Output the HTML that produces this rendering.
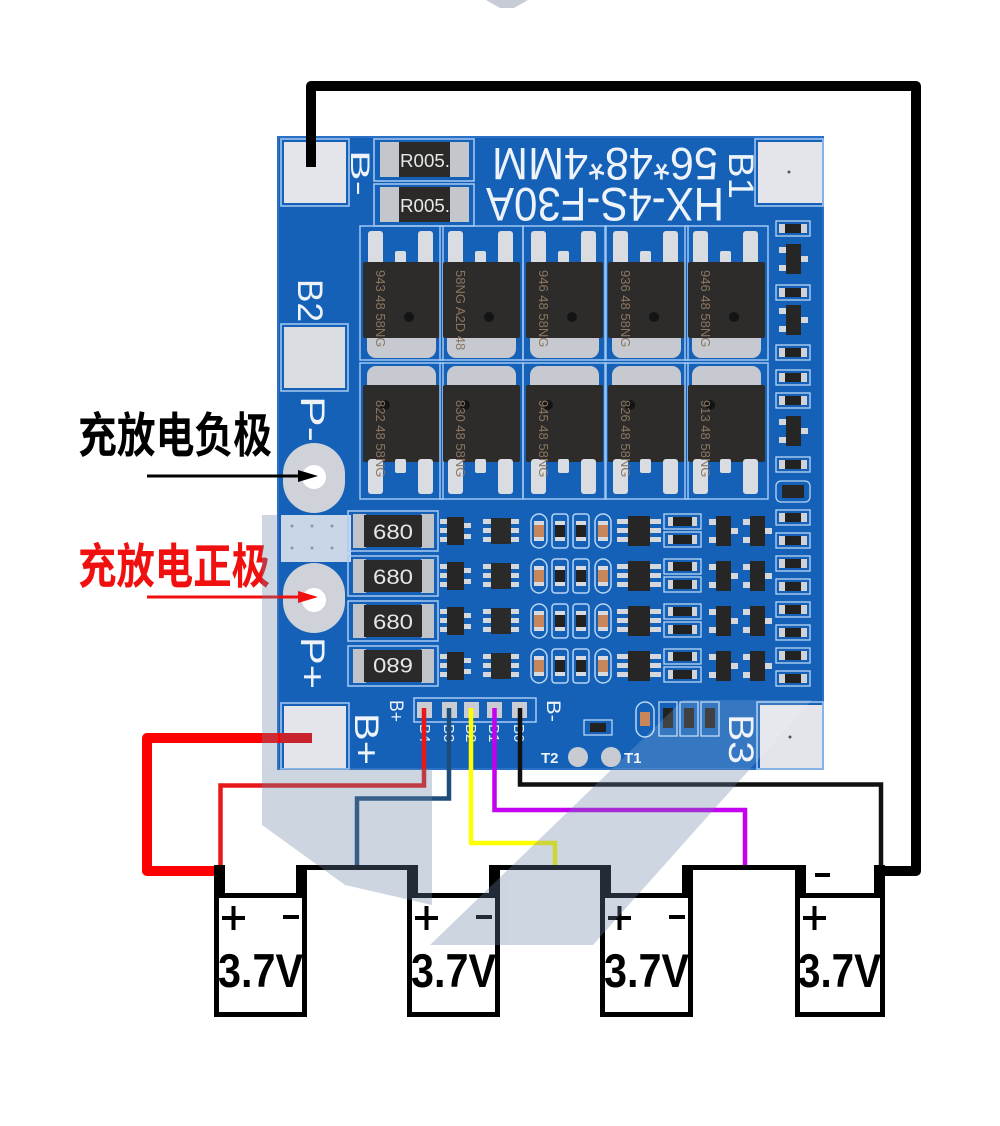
<!DOCTYPE html>
<html><head><meta charset="utf-8"><style>
html,body{margin:0;padding:0;background:#fff;}
svg{display:block}
</style></head><body>
<svg width="1000" height="1126" viewBox="0 0 1000 1126" xmlns="http://www.w3.org/2000/svg" font-family="'Liberation Sans', sans-serif">
<defs>
  <g id="m1">
    <rect x="-3" y="-36" width="83" height="134" fill="none" stroke="#9fc6f2" stroke-width="1.5"/>
    <rect x="5" y="-31" width="15" height="35" rx="3" fill="#d9dce1"/>
    <rect x="55" y="-31" width="15" height="35" rx="3" fill="#d9dce1"/>
    <rect x="32" y="-11" width="11" height="14" rx="2" fill="#d9dce1"/>
    <rect x="4" y="58" width="69" height="38" rx="9" fill="#c6cad0"/>
    <rect x="0" y="0" width="77" height="76" rx="2" fill="#2d2c2b"/>
    <circle cx="46" cy="55" r="5" fill="#141414"/>
  </g>
  <g id="m2">
    <rect x="-3" y="-22" width="83" height="136" fill="none" stroke="#9fc6f2" stroke-width="1.5"/>
    <rect x="4" y="-19" width="69" height="32" rx="9" fill="#c6cad0"/>
    <rect x="0" y="0" width="77" height="77" rx="2" fill="#2d2c2b"/>
    <rect x="5" y="74" width="15" height="35" rx="3" fill="#d9dce1"/>
    <rect x="55" y="74" width="15" height="35" rx="3" fill="#d9dce1"/>
    <rect x="32" y="74" width="11" height="14" rx="2" fill="#d9dce1"/>
    <circle cx="22" cy="20" r="5" fill="#141414"/>
  </g>
  <g id="rr">
    <rect x="0" y="0" width="34" height="15" fill="none" stroke="#b9d6f5" stroke-width="1.3"/>
    <rect x="3" y="3" width="6" height="9" fill="#cfd2d7"/>
    <rect x="25" y="3" width="6" height="9" fill="#cfd2d7"/>
    <rect x="9" y="3" width="16" height="9" fill="#222"/>
  </g>
  <g id="tr">
    <rect x="3" y="3" width="8" height="6" fill="#d4d7dc"/>
    <rect x="3" y="21" width="8" height="6" fill="#d4d7dc"/>
    <rect x="24" y="12" width="8" height="6" fill="#d4d7dc"/>
    <rect x="10" y="0" width="15" height="30" fill="#262626"/>
  </g>
  <g id="lr">
    <rect x="348" y="-3" width="90" height="40" fill="none" stroke="#a6cbf2" stroke-width="1.5"/>
    <rect x="353" y="0" width="13" height="34" fill="#c0c3c8"/>
    <rect x="421" y="0" width="13" height="34" fill="#c0c3c8"/>
    <rect x="364" y="1" width="58" height="32" fill="#2a2a2a"/>
    <rect x="440" y="5" width="8" height="5" fill="#d4d7dc"/>
    <rect x="440" y="14" width="8" height="5" fill="#d4d7dc"/>
    <rect x="440" y="23" width="8" height="5" fill="#d4d7dc"/>
    <rect x="463" y="9" width="8" height="5" fill="#d4d7dc"/>
    <rect x="463" y="20" width="8" height="5" fill="#d4d7dc"/>
    <rect x="447" y="3" width="17" height="28" fill="#262626"/>
    <rect x="483" y="5" width="9" height="5" fill="#d4d7dc"/>
    <rect x="483" y="14" width="9" height="5" fill="#d4d7dc"/>
    <rect x="483" y="23" width="9" height="5" fill="#d4d7dc"/>
    <rect x="510" y="5" width="9" height="5" fill="#d4d7dc"/>
    <rect x="510" y="14" width="9" height="5" fill="#d4d7dc"/>
    <rect x="510" y="23" width="9" height="5" fill="#d4d7dc"/>
    <rect x="491" y="4" width="20" height="26" fill="#2a2a2a"/>
    <rect x="531" y="0" width="16" height="34" rx="8" fill="none" stroke="#b9d6f5" stroke-width="1.5"/>
    <rect x="552" y="0" width="16" height="34" rx="3" fill="none" stroke="#b9d6f5" stroke-width="1.5"/>
    <rect x="573" y="0" width="16" height="34" rx="3" fill="none" stroke="#b9d6f5" stroke-width="1.5"/>
    <rect x="595" y="0" width="16" height="34" rx="8" fill="none" stroke="#b9d6f5" stroke-width="1.5"/>
    <rect x="534" y="7" width="10" height="20" fill="#d8dadf"/>
    <rect x="534" y="11" width="10" height="12" fill="#c8875a"/>
    <rect x="555" y="7" width="10" height="20" fill="#d8dadf"/>
    <rect x="555" y="11" width="10" height="12" fill="#222"/>
    <rect x="576" y="7" width="10" height="20" fill="#d8dadf"/>
    <rect x="576" y="11" width="10" height="12" fill="#222"/>
    <rect x="598" y="7" width="10" height="20" fill="#d8dadf"/>
    <rect x="598" y="11" width="10" height="12" fill="#c8875a"/>
    <rect x="617" y="5" width="11" height="5" fill="#d4d7dc"/>
    <rect x="617" y="14" width="11" height="5" fill="#d4d7dc"/>
    <rect x="617" y="23" width="11" height="5" fill="#d4d7dc"/>
    <rect x="650" y="5" width="11" height="5" fill="#d4d7dc"/>
    <rect x="650" y="14" width="11" height="5" fill="#d4d7dc"/>
    <rect x="650" y="23" width="11" height="5" fill="#d4d7dc"/>
    <rect x="628" y="2" width="22" height="30" fill="#262626"/>
    <rect x="664" y="0" width="37" height="15" fill="none" stroke="#b9d6f5" stroke-width="1.3"/>
    <rect x="664" y="18" width="37" height="15" fill="none" stroke="#b9d6f5" stroke-width="1.3"/>
    <rect x="668" y="3" width="29" height="9" fill="#d0d3d8"/>
    <rect x="673" y="3" width="19" height="9" fill="#222"/>
    <rect x="668" y="21" width="29" height="9" fill="#d0d3d8"/>
    <rect x="673" y="21" width="19" height="9" fill="#222"/>
    <use href="#tr" x="706" y="2"/>
    <use href="#tr" x="740" y="2"/>
  </g>
</defs>

<!-- faint top gray mark -->
<polygon points="486,0 528,0 514,8 500,8" fill="#c7ccd4"/>

<!-- PCB -->
<rect x="278" y="137" width="545" height="632" fill="#1561b8"/>
<rect x="278" y="137" width="545" height="632" fill="none" stroke="#2a70c4" stroke-width="2"/>

<!-- pads -->
<rect x="281" y="139" width="68" height="67" fill="none" stroke="#a6cbf2" stroke-width="1.5"/>
<rect x="284" y="142" width="62" height="61" fill="#e3e5ea"/>
<rect x="755" y="139" width="68" height="67" fill="none" stroke="#a6cbf2" stroke-width="1.5"/>
<rect x="758" y="142" width="64" height="61" fill="#e3e5ea"/>
<circle cx="789" cy="172" r="1.5" fill="#555"/>
<rect x="281" y="324" width="67" height="67" fill="none" stroke="#a6cbf2" stroke-width="1.5"/>
<rect x="284" y="327" width="61" height="61" fill="#d9dce1"/>
<rect x="283" y="443" width="62" height="70" rx="31" fill="#cfd2d8"/>
<circle cx="314" cy="477" r="12" fill="#fff"/>
<rect x="281" y="515" width="70" height="47" fill="#c9d6e8"/>
<circle cx="292" cy="526" r="1.5" fill="#7f9ab8"/><circle cx="312" cy="526" r="1.5" fill="#7f9ab8"/><circle cx="332" cy="526" r="1.5" fill="#7f9ab8"/>
<circle cx="292" cy="548" r="1.5" fill="#7f9ab8"/><circle cx="312" cy="548" r="1.5" fill="#7f9ab8"/><circle cx="332" cy="548" r="1.5" fill="#7f9ab8"/>
<rect x="283" y="563" width="62" height="70" rx="31" fill="#cfd2d8"/>
<circle cx="314" cy="600" r="12" fill="#fff"/>
<rect x="281" y="703" width="68" height="66" fill="none" stroke="#a6cbf2" stroke-width="1.5"/>
<rect x="284" y="706" width="62" height="62" fill="#e3e5ea"/>
<rect x="757" y="702" width="66" height="67" fill="none" stroke="#a6cbf2" stroke-width="1.5"/>
<rect x="760" y="705" width="62" height="63" fill="#e3e5ea"/>
<circle cx="790" cy="737" r="1.5" fill="#555"/>

<!-- R005 resistors -->
<rect x="374" y="139" width="100" height="42" fill="none" stroke="#a6cbf2" stroke-width="1.5"/>
<rect x="374" y="184" width="100" height="42" fill="none" stroke="#a6cbf2" stroke-width="1.5"/>
<rect x="380" y="142" width="20" height="35" fill="#c3c6cb"/>
<rect x="449" y="142" width="20" height="35" fill="#c3c6cb"/>
<rect x="399" y="142" width="51" height="35" fill="#2b2a29"/>
<text x="425" y="167" font-size="18" fill="#e8e8e8" text-anchor="middle" textLength="50" lengthAdjust="spacingAndGlyphs">R005.</text>
<rect x="380" y="187" width="20" height="35" fill="#c3c6cb"/>
<rect x="449" y="187" width="20" height="35" fill="#c3c6cb"/>
<rect x="399" y="187" width="51" height="35" fill="#2b2a29"/>
<text x="425" y="212" font-size="18" fill="#e8e8e8" text-anchor="middle" textLength="50" lengthAdjust="spacingAndGlyphs">R005.</text>

<!-- upside-down silkscreen text -->
<text x="605" y="180" font-size="45" fill="#eef3fa" text-anchor="middle" textLength="226" lengthAdjust="spacingAndGlyphs" transform="rotate(180 605 164)">56*48*4MM</text>
<text x="605" y="222" font-size="47" fill="#eef3fa" text-anchor="middle" textLength="238" lengthAdjust="spacingAndGlyphs" transform="rotate(180 605 205)">HX-4S-F30A</text>

<!-- rotated labels -->
<g fill="#eef3fa">
<text transform="translate(351,150) rotate(90)" font-size="27" textLength="46" lengthAdjust="spacingAndGlyphs">B-</text>
<text transform="translate(729,152) rotate(90)" font-size="35" textLength="47" lengthAdjust="spacingAndGlyphs">B1</text>
<text transform="translate(298,279) rotate(90)" font-size="35" textLength="43" lengthAdjust="spacingAndGlyphs">B2</text>
<text transform="translate(301,396) rotate(90)" font-size="34" textLength="46" lengthAdjust="spacingAndGlyphs">P-</text>
<text transform="translate(301,637) rotate(90)" font-size="34" textLength="52" lengthAdjust="spacingAndGlyphs">P+</text>
<text transform="translate(355,713) rotate(90)" font-size="34" textLength="52" lengthAdjust="spacingAndGlyphs">B+</text>
<text transform="translate(729,714) rotate(90)" font-size="35" textLength="50" lengthAdjust="spacingAndGlyphs">B3</text>
<text transform="translate(390,700) rotate(90)" font-size="19" textLength="22" lengthAdjust="spacingAndGlyphs">B+</text>
<text transform="translate(547,700) rotate(90)" font-size="19" textLength="22" lengthAdjust="spacingAndGlyphs">B-</text>
</g>

<!-- MOSFETs -->
<use href="#m1" x="363" y="262"/>
<use href="#m1" x="443" y="262"/>
<use href="#m1" x="526" y="262"/>
<use href="#m1" x="608" y="262"/>
<use href="#m1" x="688" y="262"/>
<use href="#m2" x="363" y="385"/>
<use href="#m2" x="443" y="385"/>
<use href="#m2" x="526" y="385"/>
<use href="#m2" x="608" y="385"/>
<use href="#m2" x="688" y="385"/>
<g fill="#8a7660" font-size="13">
<text transform="translate(376,270) rotate(90)">943 48 58NG</text>
<text transform="translate(456,270) rotate(90)">58NG A2D 48</text>
<text transform="translate(539,270) rotate(90)">946 48 58NG</text>
<text transform="translate(621,270) rotate(90)">936 48 58NG</text>
<text transform="translate(701,270) rotate(90)">946 48 58NG</text>
<text transform="translate(376,400) rotate(90)">822 48 58NG</text>
<text transform="translate(456,400) rotate(90)">830 48 58NG</text>
<text transform="translate(539,400) rotate(90)">945 48 58NG</text>
<text transform="translate(621,400) rotate(90)">826 48 58NG</text>
<text transform="translate(701,400) rotate(90)">913 48 58NG</text>
</g>

<!-- right column -->
<use href="#rr" x="776" y="221"/>
<use href="#tr" x="776" y="244"/>
<use href="#rr" x="776" y="285"/>
<use href="#tr" x="776" y="305"/>
<use href="#rr" x="776" y="345"/>
<use href="#rr" x="776" y="370"/>
<use href="#rr" x="776" y="393"/>
<use href="#tr" x="776" y="416"/>
<use href="#rr" x="776" y="457"/>
<rect x="776" y="481" width="34" height="21" rx="5" fill="none" stroke="#b9d6f5" stroke-width="1.3"/>
<rect x="782" y="485" width="22" height="13" fill="#262626"/>
<use href="#rr" x="776" y="510"/>
<use href="#rr" x="776" y="533"/>
<use href="#rr" x="776" y="556"/>
<use href="#rr" x="776" y="579"/>
<use href="#rr" x="776" y="602"/>
<use href="#rr" x="776" y="625"/>
<use href="#rr" x="776" y="648"/>
<use href="#rr" x="776" y="671"/>

<!-- lower rows -->
<use href="#lr" x="0" y="514"/>
<use href="#lr" x="0" y="559"/>
<use href="#lr" x="0" y="604"/>
<use href="#lr" x="0" y="649"/>
<g fill="#e6e6e6" font-size="21" text-anchor="middle">
<text x="393" y="539" textLength="40" lengthAdjust="spacingAndGlyphs">680</text>
<text x="393" y="584" textLength="40" lengthAdjust="spacingAndGlyphs">680</text>
<text x="393" y="629" textLength="40" lengthAdjust="spacingAndGlyphs">680</text>
<text x="393" y="674" textLength="40" lengthAdjust="spacingAndGlyphs" transform="rotate(180 393 666)">680</text>
</g>

<!-- connector -->
<rect x="414" y="698" width="122" height="24" fill="none" stroke="#a6cbf2" stroke-width="1.5"/>
<rect x="417" y="702" width="15" height="16" fill="#c9ccd3"/>
<rect x="442" y="702" width="15" height="16" fill="#c9ccd3"/>
<rect x="464" y="702" width="15" height="16" fill="#c9ccd3"/>
<rect x="487" y="702" width="15" height="16" fill="#c9ccd3"/>
<rect x="512" y="702" width="15" height="16" fill="#c9ccd3"/>
<g fill="#eef3fa" font-size="15">
<text transform="translate(420,724) rotate(90)">B4</text>
<text transform="translate(444,724) rotate(90)">B3</text>
<text transform="translate(466,724) rotate(90)">B2</text>
<text transform="translate(489,724) rotate(90)">B1</text>
<text transform="translate(514,724) rotate(90)">B0</text>
</g>
<rect x="584" y="720" width="28" height="15" fill="none" stroke="#b9d6f5" stroke-width="1.3"/>
<rect x="590" y="723" width="16" height="9" fill="#222"/>
<rect x="636" y="702" width="18" height="35" rx="9" fill="none" stroke="#b9d6f5" stroke-width="1.5"/>
<rect x="640" y="712" width="10" height="14" fill="#c8875a"/>
<rect x="659" y="702" width="18" height="34" fill="none" stroke="#b9d6f5" stroke-width="1.3"/>
<rect x="663" y="708" width="10" height="20" fill="#222"/>
<rect x="680" y="702" width="18" height="34" fill="none" stroke="#b9d6f5" stroke-width="1.3"/>
<rect x="684" y="708" width="10" height="20" fill="#222"/>
<rect x="701" y="702" width="18" height="34" fill="none" stroke="#b9d6f5" stroke-width="1.3"/>
<rect x="705" y="708" width="10" height="20" fill="#222"/>
<circle cx="578" cy="757" r="10" fill="#c8ccd2"/>
<circle cx="611" cy="757" r="10" fill="#c8ccd2"/>
<text x="541" y="763" font-size="15" fill="#eef3fa" font-weight="bold">T2</text>
<text x="624" y="763" font-size="15" fill="#eef3fa" font-weight="bold">T1</text>

<!-- faint watermark over PCB -->
<g fill="#ffffff" opacity="0.14">
<polygon points="683,700 812,700 750,769 612,769"/>
</g>

<!-- thick wires -->
<path d="M311 167 V86 H916 V871 H880" fill="none" stroke="#000" stroke-width="10" stroke-linejoin="round"/>
<path d="M312 738 H147 V871 H218" fill="none" stroke="#ff0000" stroke-width="10" stroke-linejoin="round"/>
<rect x="280" y="733" width="32" height="10" fill="#c8222c"/>

<!-- thin wires -->
<path d="M424 708 V785.5 H220.5 V868" fill="none" stroke="#e81818" stroke-width="4.5"/>
<path d="M449 708 V798.5 H357 V868" fill="none" stroke="#1e4d7b" stroke-width="4.5"/>
<path d="M471 708 V843 H555 V868" fill="none" stroke="#ffff00" stroke-width="4.5"/>
<path d="M494.5 708 V810 H745 V868" fill="none" stroke="#c400f0" stroke-width="4.5"/>
<path d="M520 708 V784.5 H881 V868" fill="none" stroke="#111" stroke-width="4.5"/>

<!-- batteries -->
<g fill="#000">
<rect x="297" y="865" width="121" height="5"/>
<rect x="490" y="865" width="121" height="5"/>
<rect x="682" y="865" width="121" height="5"/>
</g>
<g stroke="#000" stroke-width="5" fill="#fff">
<rect x="216.5" y="895.5" width="88" height="119"/>
<rect x="409.5" y="895.5" width="88" height="119"/>
<rect x="602.5" y="895.5" width="88" height="119"/>
<rect x="797.5" y="895.5" width="85" height="119"/>
</g>
<g fill="#000">
<rect x="214" y="865" width="11" height="33"/><rect x="296" y="865" width="11" height="33"/>
<rect x="407" y="865" width="11" height="33"/><rect x="489" y="865" width="11" height="33"/>
<rect x="600" y="865" width="11" height="33"/><rect x="682" y="865" width="11" height="33"/>
<rect x="795" y="865" width="11" height="33"/><rect x="874" y="865" width="11" height="33"/>
<rect x="222" y="916" width="23" height="4"/><rect x="231.5" y="906" width="4" height="24"/>
<rect x="415" y="916" width="23" height="4"/><rect x="424.5" y="906" width="4" height="24"/>
<rect x="608" y="916" width="23" height="4"/><rect x="617.5" y="906" width="4" height="24"/>
<rect x="803" y="916" width="23" height="4"/><rect x="812.5" y="906" width="4" height="24"/>
<rect x="283" y="915" width="16" height="4"/>
<rect x="476" y="915" width="16" height="4"/>
<rect x="669" y="915" width="16" height="4"/>
<rect x="815" y="873" width="15" height="4"/>
</g>
<g font-size="47" font-weight="bold" fill="#000">
<text x="218" y="987" textLength="85" lengthAdjust="spacingAndGlyphs">3.7V</text>
<text x="411" y="987" textLength="85" lengthAdjust="spacingAndGlyphs">3.7V</text>
<text x="604" y="987" textLength="85" lengthAdjust="spacingAndGlyphs">3.7V</text>
<text x="798" y="987" textLength="83" lengthAdjust="spacingAndGlyphs">3.7V</text>
</g>

<!-- labels & arrows -->
<text x="78" y="452" font-size="48" font-weight="bold" fill="#000" textLength="194" lengthAdjust="spacingAndGlyphs" font-family="'Liberation Sans','Noto Sans CJK SC',sans-serif">充放电负极</text>
<line x1="147" y1="476" x2="302" y2="476" stroke="#000" stroke-width="3"/>
<polygon points="298,470 318,476 298,482" fill="#000"/>
<text x="78" y="583" font-size="48" font-weight="bold" fill="#f01010" textLength="192" lengthAdjust="spacingAndGlyphs" font-family="'Liberation Sans','Noto Sans CJK SC',sans-serif">充放电正极</text>
<line x1="147" y1="597" x2="302" y2="597" stroke="#f01010" stroke-width="3"/>
<polygon points="298,591 318,597 298,603" fill="#f01010"/>

<!-- translucent watermark logo -->
<g fill="#6a84a3" opacity="0.33">
<polygon points="262,515 278,515 278,769 262,769"/>
<polygon points="262,769 432,769 432,905 345,885 262,825"/>
<polygon points="612,769 750,769 593,945 430,945"/>
</g>
</svg>
</body></html>
